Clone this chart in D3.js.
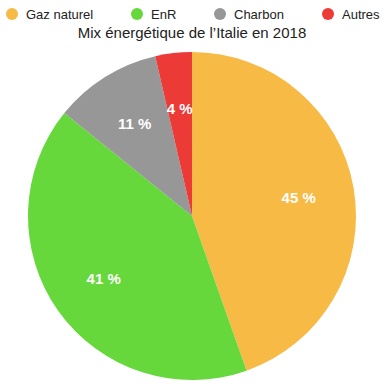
<!DOCTYPE html>
<html>
<head>
<meta charset="utf-8">
<script src="https://cdn.jsdelivr.net/npm/d3@7"></script>
<style>
  body { margin: 0; background: #fff; }
  text { font-family: "Liberation Sans", Arial, sans-serif; }
</style>
</head>
<body>
<div id="chart"></div>
<script>
var categories = ["Gaz naturel", "EnR", "Charbon", "Autres"];
var values = [44.6, 41.2, 10.6, 3.6];
var colors = ["#f7ba44", "#66d83c", "#979797", "#ec3a37"];
var title = "Mix énergétique de l’Italie en 2018";

var w = 387, h = 389;
var cx = 192, cy = 216, r = 164;

var svg = d3.select("#chart").append("svg")
    .attr("width", w)
    .attr("height", h);

// legend
var legendX = [12, 137, 220, 328];
var legend = svg.selectAll("g.leg")
    .data(categories)
    .enter().append("g")
    .attr("class", "leg")
    .attr("transform", function (d, i) { return "translate(" + legendX[i] + ",14)"; });
legend.append("circle")
    .attr("r", 6)
    .attr("fill", function (d, i) { return colors[i]; });
legend.append("text")
    .attr("x", 14)
    .attr("dy", "0.35em")
    .attr("font-size", 13)
    .attr("fill", "#222")
    .text(function (d) { return d; });

svg.append("text")
    .attr("x", cx)
    .attr("y", 38)
    .attr("text-anchor", "middle")
    .attr("font-size", 15)
    .attr("fill", "#222")
    .text(title);

var pie = d3.pie().sort(null).value(function (d) { return d; });
var arcs = pie(values);
var arc = d3.arc().innerRadius(0).outerRadius(r);
var labelArc = d3.arc().innerRadius(r * 0.66).outerRadius(r * 0.66);

var g = svg.append("g").attr("transform", "translate(" + cx + "," + cy + ")");
g.selectAll("path")
    .data(arcs)
    .enter().append("path")
    .attr("d", arc)
    .attr("fill", function (d, i) { return colors[i]; });

g.selectAll("text.lab")
    .data(arcs)
    .enter().append("text")
    .attr("class", "lab")
    .attr("transform", function (d) { return "translate(" + labelArc.centroid(d) + ")"; })
    .attr("text-anchor", "middle")
    .attr("dy", "0.35em")
    .attr("font-size", 15)
    .attr("font-weight", "bold")
    .attr("fill", "#fff")
    .text(function (d) { return Math.round(d.data) + " %"; });
</script>
</body>
</html>
